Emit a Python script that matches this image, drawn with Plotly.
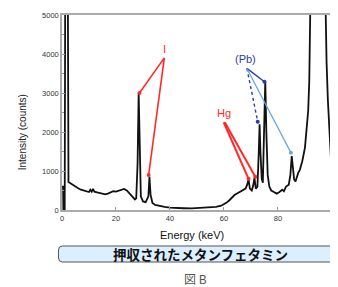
import plotly.graph_objects as go

# ---- spectrum data (energy keV, counts) ----
energy = [0, 0.4, 0.5, 1.0, 1.3, 2.0, 2.4, 3, 4, 5, 6, 7, 8, 9, 10, 10.5, 11, 11.5, 12, 13,
          14, 15, 16, 17, 18, 19, 20, 21, 22, 23, 24, 25, 26, 27, 27.5, 28.0, 28.4, 28.8,
          29.2, 30, 31, 32.0, 32.4, 32.8, 33.5, 34.5, 36, 38, 40, 42, 45, 48, 50, 52, 55,
          57, 59, 60, 61, 62, 63, 64, 65, 66, 67, 68, 68.6, 69.1, 69.6, 70.3, 70.8, 71.3,
          71.8, 72.4, 72.9, 73.2, 73.5, 74.0, 74.4, 74.9, 75.3, 75.7, 76.2, 76.8, 77.5,
          78.5, 79.5, 80.3, 81, 81.6, 82.2, 83, 84, 84.6, 85.1, 85.5, 86.0, 86.5, 87.0,
          87.5, 88.1, 89, 90, 90.6, 91.2, 91.6, 92.1, 92.6, 95, 97.2, 97.6, 98.0, 98.5,
          99.0, 99.6, 100.3, 101, 101.5]
counts = [600, 600, 0, 0, 9000, 9000, 720, 690, 640, 600, 560, 520, 500, 480, 460, 520, 470,
          540, 470, 450, 430, 410, 400, 420, 440, 480, 470, 500, 530, 540, 500, 420, 330,
          270, 300, 1200, 3000, 1200, 350, 220, 200, 350, 850, 400, 180, 130, 100, 80, 60,
          50, 45, 40, 45, 50, 65, 80, 110, 140, 190, 250, 320, 390, 430, 470, 500, 550,
          650, 780, 550, 500, 620, 820, 550, 600, 1500, 2200, 1500, 800, 700, 2000, 3300,
          2000, 900, 600, 500, 460, 420, 450, 500, 520, 480, 600, 650, 900, 1380, 1000,
          780, 730, 850, 950, 1030, 1250, 1600, 2000, 2550, 3300, 5000, 7000, 20000, 7000,
          5100, 3800, 2800, 2000, 1360, 900, 600, 500]

y_ticks = [0, 1000, 2000, 3000, 4000, 5000]
x_ticks = [0, 20, 40, 60, 80, 100]

# annotation labels: (text, x, y, color)
labels = [("I", 37.9, 4120, "#ff2a2a"),
          ("Hg", 59.9, 2480, "#ff2a2a"),
          ("(Pb)", 67.8, 3870, "#2b3bb0")]

# pointer lines: start (x,y) -> end (x,y), colour, dash, width
pointers = [
    ((37.9, 3900), (28.7, 3000), "#ff2a2a", "solid", 1.6),
    ((37.9, 3900), (32.1, 900), "#ff2a2a", "solid", 1.6),
    ((59.9, 2250), (69.1, 800), "#ff2a2a", "solid", 2.0),
    ((60.3, 2250), (71.6, 850), "#ff2a2a", "solid", 2.0),
    ((68.5, 3630), (72.5, 2264), "#2b3bb0", "dot", 1.4),
    ((68.5, 3630), (75.0, 3290), "#2b3bb0", "solid", 1.4),
    ((68.5, 3630), (84.8, 1470), "#6fa8dc", "solid", 1.3),
]

fig = go.Figure()
fig.add_trace(go.Scatter(x=energy, y=counts, mode="lines",
                         line=dict(color="#111111", width=1.8), showlegend=False,
                         hoverinfo="skip"))

for (s, e, col, dash, w) in pointers:
    fig.add_shape(type="line", x0=s[0], y0=s[1], x1=e[0], y1=e[1],
                  line=dict(color=col, width=w, dash=dash), layer="above")
fig.add_trace(go.Scatter(x=[p[1][0] for p in pointers], y=[p[1][1] for p in pointers],
                         mode="markers",
                         marker=dict(size=4, color=[p[2] for p in pointers]),
                         showlegend=False, hoverinfo="skip"))

for (t, x, y, col) in labels:
    fig.add_annotation(x=x, y=y, text=t, showarrow=False, xanchor="center", yanchor="middle",
                       font=dict(color=col, size=11, family="Liberation Sans"))

# axis titles / captions
fig.add_annotation(xref="paper", yref="paper", x=0.475, y=-0.128, text="Energy (keV)",
                   showarrow=False, xanchor="center", yanchor="middle",
                   font=dict(size=11, color="#111", family="Liberation Sans"))
fig.add_annotation(xref="paper", yref="paper", x=-0.145, y=0.40, text="Intensity (counts)",
                   textangle=-90, showarrow=False, xanchor="center", yanchor="middle",
                   font=dict(size=10, color="#222", family="Liberation Sans"))

# rounded caption box
x0, x1 = -0.0127, 1.03
y0, y1 = -0.2667, -0.1846
rx, ry = 0.0145, 0.0205
path = (f"M {x0+rx},{y1} L {x1-rx},{y1} Q {x1},{y1} {x1},{y1-ry} L {x1},{y0+ry} "
        f"Q {x1},{y0} {x1-rx},{y0} L {x0+rx},{y0} Q {x0},{y0} {x0},{y0+ry} "
        f"L {x0},{y1-ry} Q {x0},{y1} {x0+rx},{y1} Z")
fig.add_shape(type="path", xref="paper", yref="paper", path=path,
              fillcolor="#dcefff", line=dict(color="#555555", width=1))
fig.add_annotation(xref="paper", yref="paper", x=0.506, y=-0.225,
                   text="<b>押収されたメタンフェタミン</b>", showarrow=False,
                   xanchor="center", yanchor="middle",
                   font=dict(size=13.5, color="#111", family="Noto Sans CJK JP"))
fig.add_annotation(xref="paper", yref="paper", x=0.486, y=-0.352,
                   text="図 B", showarrow=False, xanchor="center", yanchor="middle",
                   font=dict(size=12, color="#555", family="Noto Sans CJK JP"))

# page body has an 8px margin, so the figure is 8px smaller and shifted
fig.update_layout(
    width=330, height=279,
    margin=dict(l=54, r=0, t=7, b=77),
    plot_bgcolor="white", paper_bgcolor="white",
    xaxis=dict(range=[0, 101.5], tickvals=x_ticks, showgrid=False, zeroline=False,
               showline=True, linecolor="#aaaaaa", linewidth=1.5, mirror=True,
               ticks="inside", ticklen=3, tickcolor="#999",
               tickfont=dict(size=7.5, color="#333", family="Liberation Sans")),
    yaxis=dict(range=[0, 5000], tickvals=y_ticks, showgrid=False, zeroline=False,
               showline=True, linecolor="#aaaaaa", linewidth=1.5, mirror=True,
               ticks="inside", ticklen=3, tickcolor="#999",
               minor=dict(dtick=500, ticks="inside", ticklen=2, tickcolor="#999"),
               tickfont=dict(size=7.5, color="#333", family="Liberation Sans")),
)

fig.write_html("out.html")
